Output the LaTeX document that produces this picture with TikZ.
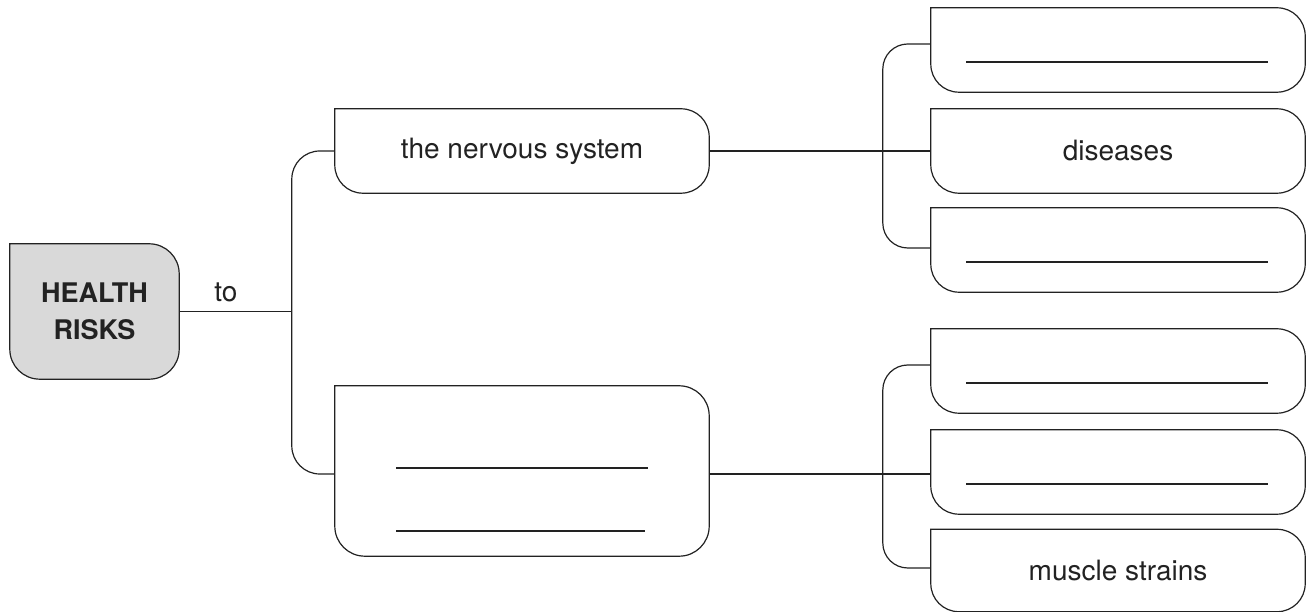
\documentclass[tikz,border=0pt]{standalone}
\usepackage{fontspec}
\setmainfont{TeX Gyre Heros}
\usetikzlibrary{calc,backgrounds}

\definecolor{ink}{HTML}{222222}
\definecolor{boxgray}{HTML}{D9D9D9}

% Outline with a square top-left corner and the other three rounded
\newcommand{\tabshape}[3][]{%
  \draw[link,#1] (#2.north west) -- ([xshift=-#3]#2.north east)
    arc[start angle=90,end angle=0,radius=#3] -- ([yshift=#3]#2.south east)
    arc[start angle=0,end angle=-90,radius=#3] -- ([xshift=#3]#2.south west)
    arc[start angle=270,end angle=180,radius=#3] -- cycle;}

\tikzset{
  lbl/.style={font=\fontsize{28}{37}\selectfont, text=ink},
  slot/.style={lbl, inner sep=0pt, minimum width=374pt, minimum height=84pt},
  link/.style={draw=ink, line width=1.2pt},
}

\begin{document}
\begin{tikzpicture}[x=1pt,y=1pt]
\useasboundingbox (0,0) rectangle (1314,612);

% root
\node[lbl, font=\fontsize{27}{37}\selectfont\bfseries, align=center, inner sep=0pt,
      minimum width=169pt, minimum height=135pt] (hr) at (94.5,300.5) {HEALTH\\RISKS};
\node[lbl, anchor=base] (to) at (226,310) {to};

% middle column
\node[slot] (ns) at (522,461) {the nervous system};
\node[slot, minimum height=170pt] (ll) at (522,141) {};

% right column, upper group
\node[slot] (a1) at (1118,562) {};
\node[slot] (a2) at (1118,461) {diseases};
\node[slot] (a3) at (1118,362) {};

% right column, lower group
\node[slot] (b1) at (1118,241) {};
\node[slot] (b2) at (1118,140) {};
\node[slot, minimum height=82pt] (b3) at (1118,41.5) {muscle strains};

\begin{pgfonlayer}{background}
  \tabshape[fill=boxgray]{hr}{30pt}
  \tabshape{ns}{28pt}
  \tabshape{ll}{30pt}
  \foreach \n in {a1,a2,a3,b1,b2,b3} {\tabshape{\n}{28pt}}
\end{pgfonlayer}

% write-in lines
\foreach \n in {a1,a3,b1,b2}
  \draw[link] ([xshift=-152pt,yshift=-12pt]\n.center) -- ([xshift=150pt,yshift=-12pt]\n.center);
\draw[link] ([xshift=-126pt,yshift=3pt]ll.center) -- ([xshift=126pt,yshift=3pt]ll.center);
\draw[link] ([xshift=-126pt,yshift=-60pt]ll.center) -- ([xshift=123pt,yshift=-60pt]ll.center);

% connectors, left
\coordinate (spL) at ($(ns.west)+(-43,0)$);
\draw[link] (hr.east) -- (hr.east -| spL);
\draw[link, rounded corners=28pt] (ns.west) -| ($(ll.west)+(-43,-3)$) -- ([yshift=-3pt]ll.west);

% connectors, right
\draw[link] (ns.east) -- (a2.west);
\draw[link, rounded corners=25pt] ([yshift=6pt]a1.west) -| ($(a3.west)+(-48,2)$) -- ([yshift=2pt]a3.west);
\draw[link] ([yshift=-3pt]ll.east) -- ([yshift=-3pt]ll.east -| b2.west);
\draw[link, rounded corners=25pt] ([yshift=6pt]b1.west) -| ($(b3.west)+(-48,2.5)$) -- ([yshift=2.5pt]b3.west);
\end{tikzpicture}
\end{document}
